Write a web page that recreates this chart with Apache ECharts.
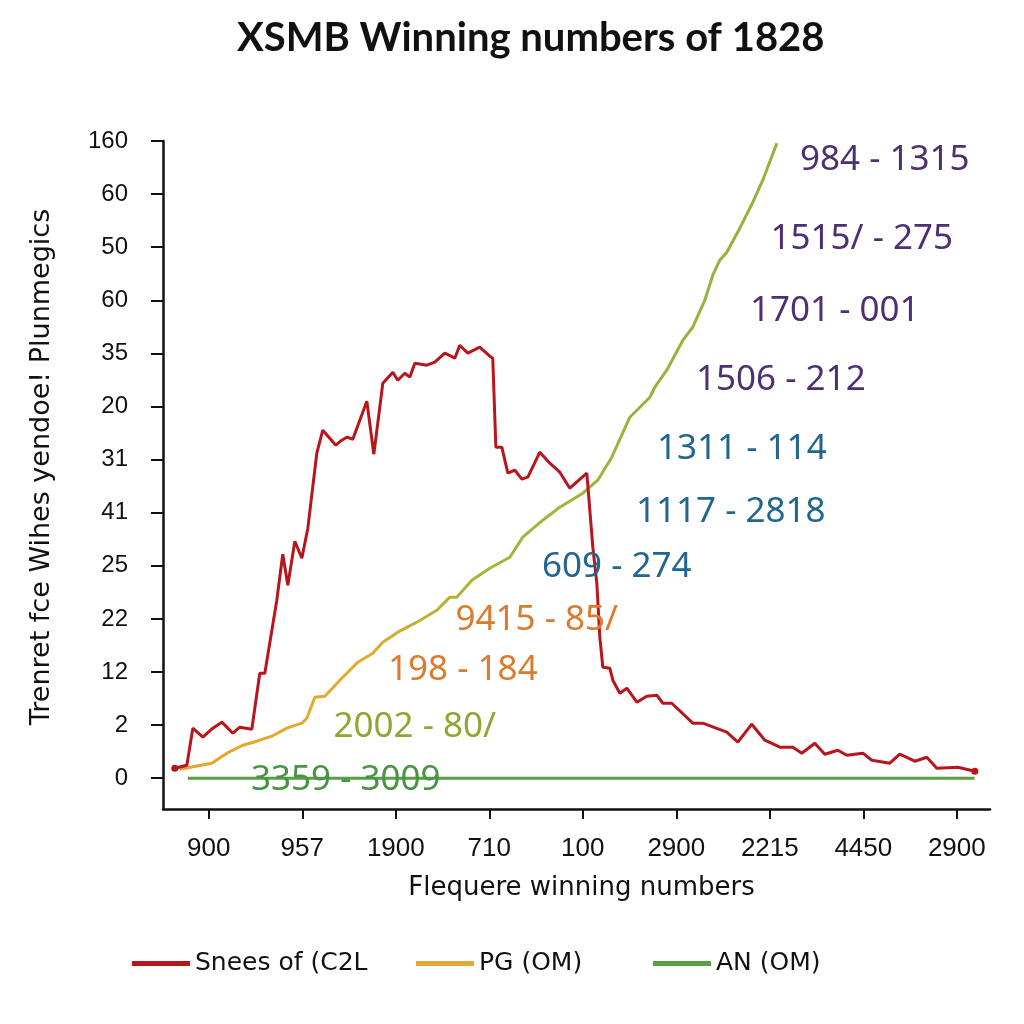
<!DOCTYPE html>
<html>
<head>
<meta charset="utf-8">
<script src="https://cdn.jsdelivr.net/npm/echarts@6/dist/echarts.min.js"></script>
<style>html,body{margin:0;padding:0;background:#fff}#c{width:1024px;height:1024px}</style>
</head>
<body>
<div id="c"></div>
<script>
// ---- data ----
const xTickLabels = ['900','957','1900','710','100','2900','2215','4450','2900'];
const yTickLabels = ['0','2','12','22','25','41','31','20','35','60','50','60','160'];
const seriesNames = ['Snees of (C2L', 'PG (OM)', 'AN (OM)'];

const sneesX = [-0.364,-0.235,-0.171,-0.064,0.043,0.139,0.257,0.332,0.460,0.545,0.599,0.727,0.791,0.845,0.920,0.995,1.059,1.155,1.219,1.358,1.422,1.476,1.540,1.690,1.765,1.861,1.968,2.021,2.096,2.150,2.203,2.332,2.417,2.524,2.631,2.684,2.770,2.898,3.005,3.037,3.070,3.134,3.198,3.273,3.348,3.412,3.540,3.647,3.754,3.861,4.043,4.107,4.150,4.182,4.214,4.289,4.321,4.396,4.471,4.578,4.684,4.791,4.856,4.952,5.176,5.283,5.540,5.658,5.807,5.947,6.107,6.246,6.342,6.481,6.588,6.727,6.824,6.995,7.091,7.283,7.390,7.551,7.679,7.786,8.011,8.193];
const sneesY = [0.188,0.245,0.942,0.772,0.942,1.055,0.847,0.960,0.923,1.977,1.977,3.352,4.218,3.635,4.463,4.143,4.708,6.121,6.554,6.271,6.365,6.422,6.384,7.100,6.102,7.439,7.646,7.495,7.627,7.552,7.815,7.778,7.834,8.004,7.910,8.154,8.004,8.117,7.947,7.910,6.234,6.234,5.744,5.800,5.631,5.669,6.139,5.932,5.763,5.461,5.744,4.350,3.672,2.655,2.090,2.072,1.846,1.601,1.695,1.431,1.544,1.563,1.412,1.412,1.036,1.036,0.866,0.678,1.017,0.716,0.584,0.584,0.471,0.659,0.452,0.527,0.433,0.471,0.339,0.282,0.452,0.320,0.395,0.188,0.207,0.132];

const pgX = [-0.310,0.032,0.193,0.364,0.513,0.674,0.834,0.995,1.048,1.134,1.241,1.422,1.594,1.754,1.861,2.021,2.225,2.439,2.578,2.652,2.813,3.005,3.219,3.358,3.572,3.754,4.000,4.160,4.310,4.503,4.578,4.717,4.770,4.898,5.070,5.176,5.305,5.390,5.465,5.540,5.679,5.818,5.925,6.075];
const pgY = [0.169,0.282,0.471,0.621,0.697,0.791,0.942,1.036,1.130,1.525,1.544,1.883,2.185,2.354,2.561,2.750,2.938,3.164,3.409,3.409,3.729,3.955,4.162,4.539,4.859,5.104,5.367,5.612,6.045,6.798,6.930,7.175,7.363,7.684,8.249,8.493,9.002,9.473,9.755,9.906,10.358,10.847,11.262,11.959];

const anX = [-0.225, 1, 2, 3, 4, 5, 6, 7, 8.19];
const anY = [0, 0, 0, 0, 0, 0, 0, 0, 0];

const annoText = ['984 - 1315','1515/ - 275','1701 - 001','1506 - 212','1311 - 114','1117 - 2818','609 - 274','9415 - 85/','198 - 184','2002 - 80/','3359 - 3009'];
const annoX = [7.230,6.984,6.695,6.118,5.701,5.583,4.364,3.508,2.717,2.203,1.465];
const annoY = [11.638,10.151,8.795,7.495,6.196,5.009,3.974,2.976,2.034,0.960,-0.038];

// ---- styles ----
const annoColors = ['#4f2f72','#4f2f72','#4f2f72','#4f2f72','#22668f','#22668f','#22668f','#dc7a2e','#dc7a2e','#93a432','#479443'];
const RED = '#b8151c', ORANGE = '#e3a937', GREEN = '#5a9e45';

function pairs(xs, ys) { return xs.map((x, i) => [x, ys[i]]); }

const sneesData = pairs(sneesX, sneesY).map((p, i, arr) =>
  (i === 0 || i === arr.length - 1) ? { value: p, symbol: 'circle', symbolSize: 7 } : { value: p });

const annoData = annoX.map((x, i) => ({
  value: [x, annoY[i]],
  label: { color: annoColors[i], formatter: annoText[i] }
}));

const chart = echarts.init(document.getElementById('c'), null, { renderer: 'canvas' });

const legendBase = {
  orient: 'horizontal', top: 946, itemWidth: 58, itemHeight: 5, icon: 'rect',
  textStyle: { fontFamily: 'DejaVu Sans', fontSize: 25, color: '#111' }, selectedMode: false
};

chart.setOption({
  animation: false,
  backgroundColor: '#ffffff',
  title: {
    text: 'XSMB Winning numbers of 1828', left: 232, top: 13,
    textStyle: { fontFamily: 'Lato', fontWeight: 'bold', fontSize: 40, color: '#111' }
  },
  legend: [
    Object.assign({}, legendBase, { left: 127, data: [{ name: seriesNames[0], itemStyle: { color: RED } }] }),
    Object.assign({}, legendBase, { left: 411, data: [{ name: seriesNames[1], itemStyle: { color: ORANGE } }] }),
    Object.assign({}, legendBase, { left: 648, data: [{ name: seriesNames[2], itemStyle: { color: GREEN } }] })
  ],
  grid: { left: 163, right: 34, top: 141, bottom: 215, containLabel: false },
  xAxis: {
    type: 'value', min: -0.49, max: 8.355,
    name: 'Flequere winning numbers', nameLocation: 'middle', nameGap: 66,
    nameTextStyle: { fontFamily: 'DejaVu Sans', fontSize: 26, color: '#111', padding: [0, 0, 0, 10] },
    splitLine: { show: false },
    axisLine: { show: true, onZero: false, lineStyle: { color: '#111', width: 2.5 } },
    axisTick: { show: true, customValues: [0,1,2,3,4,5,6,7,8], length: 10, lineStyle: { color: '#111', width: 2 } },
    axisLabel: {
      customValues: [0,1,2,3,4,5,6,7,8], margin: 27,
      fontFamily: 'Liberation Sans', fontSize: 26, color: '#111',
      formatter: v => xTickLabels[Math.round(v)]
    }
  },
  yAxis: {
    type: 'value', min: -0.58, max: 12,
    name: 'Trenret fce Wihes yendoe! Plunmegics', nameLocation: 'middle', nameGap: 108, nameRotate: 90,
    nameTextStyle: { fontFamily: 'DejaVu Sans', fontSize: 27, color: '#111', padding: [0, 0, 0, 16] },
    splitLine: { show: false },
    axisLine: { show: true, onZero: false, lineStyle: { color: '#111', width: 2.5 } },
    axisTick: { show: true, customValues: [0,1,2,3,4,5,6,7,8,9,10,11,12], length: 12, lineStyle: { color: '#111', width: 2 } },
    axisLabel: {
      customValues: [0,1,2,3,4,5,6,7,8,9,10,11,12], margin: 35,
      fontFamily: 'Liberation Sans', fontSize: 24, color: '#111',
      formatter: v => yTickLabels[Math.round(v)]
    }
  },
  series: [
    {
      name: seriesNames[2], type: 'line', data: pairs(anX, anY), symbol: 'none',
      lineStyle: { color: GREEN, width: 3 }, itemStyle: { color: GREEN }, z: 2
    },
    {
      name: seriesNames[1], type: 'line', data: pairs(pgX, pgY), symbol: 'none',
      lineStyle: {
        width: 3,
        color: new echarts.graphic.LinearGradient(0, 0, 1, 0, [
          { offset: 0, color: '#e9a22c' },
          { offset: 0.3, color: '#e2ac2e' },
          { offset: 0.5, color: '#a6b43a' },
          { offset: 1, color: '#93b23c' }
        ])
      },
      itemStyle: { color: ORANGE }, z: 3
    },
    {
      name: seriesNames[0], type: 'line', data: sneesData, symbol: 'none', showSymbol: true,
      lineStyle: { color: RED, width: 3 }, itemStyle: { color: RED }, z: 4
    },
    {
      name: 'annotations', type: 'scatter', data: annoData, symbolSize: 0, z: 10,
      itemStyle: { opacity: 1 },
      label: { show: true, position: 'inside', fontFamily: 'Noto Sans', fontSize: 35, opacity: 1 },
      silent: true
    }
  ]
});
</script>
</body>
</html>
